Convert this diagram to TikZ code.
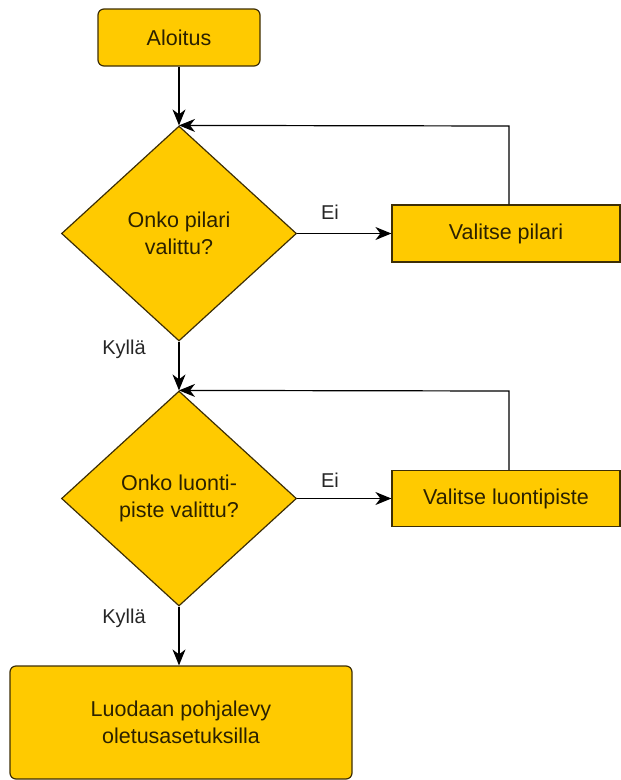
\documentclass[tikz,border=0pt]{standalone}
\usepackage{fontspec}
\setmainfont{Liberation Sans}
\usetikzlibrary{shapes.geometric,arrows.meta}
\definecolor{boxfill}{HTML}{FFCA00}
\definecolor{boxline}{HTML}{3D2E05}
\definecolor{txt}{HTML}{2B2100}
\tikzset{
  base/.style={draw=boxline, fill=boxfill, line width=1.2pt, text=txt,
    font=\fontsize{21.5}{27}\selectfont, align=center, inner sep=0pt},
  roundbox/.style={base, rectangle, rounded corners=6pt},
  plainbox/.style={base, rectangle},
  decision/.style={base, diamond, minimum width=235pt, minimum height=215pt},
  lbl/.style={font=\fontsize{20}{24}\selectfont, text=black!85, inner sep=0pt},
  arr/.style={draw=black, line width=1.2pt,
    -{Stealth[length=16pt,width=13pt,inset=5pt]}}
}
\begin{document}
\begin{tikzpicture}[x=1pt,y=-1pt]
\useasboundingbox (0,0) rectangle (621,780);
\node[roundbox, minimum width=162pt, minimum height=57pt] (start) at (179,37.5) {Aloitus};
\node[decision] (d1) at (179,233.5) {Onko pilari\\valittu?};
\node[plainbox, minimum width=228pt, minimum height=57pt] (b1) at (506,233.5) {Valitse pilari};
\node[decision] (d2) at (179,498.5) {Onko luonti-\\piste valittu?};
\node[plainbox, minimum width=228pt, minimum height=56pt] (b2) at (506,498.5) {Valitse luontipiste};
\node[roundbox, minimum width=342pt, minimum height=113pt] (end) at (181,722.5) {Luodaan pohjalevy\\oletusasetuksilla};
\coordinate (f1) at (509,126);
\coordinate (f2) at (509,391);
\node[lbl] (ei1) at (330,212) {Ei};
\node[lbl] (ei2) at (330,480) {Ei};
\node[lbl] (k1) at (124,349) {Kyllä};
\node[lbl] (k2) at (124,618) {Kyllä};
\draw[arr] (start.south) -- (d1.north);
\draw[arr] (d1.east) -- (b1.west);
\draw[arr] (f1 |- b1.north) -- (f1) -- (d1.north);
\draw[arr] (d1.south) -- (d2.north);
\draw[arr] (d2.east) -- (b2.west);
\draw[arr] (f2 |- b2.north) -- (f2) -- (d2.north);
\draw[arr] (d2.south) -- (d2.south |- end.north);
\end{tikzpicture}
\end{document}
